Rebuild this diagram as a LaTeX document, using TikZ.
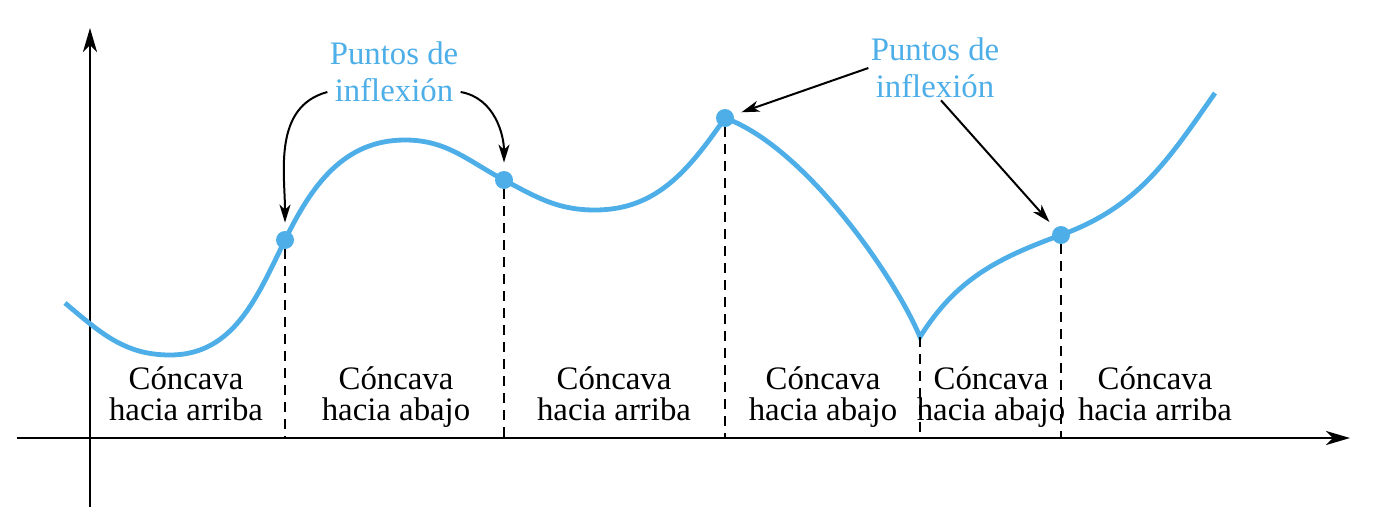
\documentclass[tikz,border=0pt]{standalone}
\usepackage{fontspec}
\setmainfont{Liberation Serif}
\usetikzlibrary{arrows.meta}
\definecolor{curva}{RGB}{77,174,232}
\tikzset{
  eje/.style={line width=1.2pt,-{Stealth[length=12pt,width=7pt,inset=3.5pt]}},
  flecha/.style={line width=1pt,-{Stealth[length=9pt,width=5.5pt,inset=2.5pt]},shorten >=4pt},
  zona/.style={anchor=north,inner sep=0pt,align=center,font=\fontsize{16.4}{15.7}\selectfont},
  rotulo/.style={inner sep=1pt,align=center,text=curva,font=\fontsize{16.4}{18.4}\selectfont},
  punto/.style={circle,fill=curva,inner sep=0pt,minimum size=9pt},
  guia/.style={line width=1.3pt,dash pattern=on 5pt off 3.5pt},
}
\begin{document}
\begin{tikzpicture}[x=0.5pt,y=0.5pt]
        \useasboundingbox (0,0) rectangle (1380,516);
        \coordinate (o) at (90,78);
        \draw[eje] (17,78) -- (1350,78);
        \draw[eje] (90,9) -- (90,488);

        % la curva
        \draw[curva,line width=2.4pt] (65,213) to[out=-40,in=180] (170,161)
            to[out=0,in=244] (285,276) to[out=64,in=180] (405,376)
            to[out=0,in=152] (504,336) to[out=-28,in=180] (595,306)
            to[out=0,in=235] (725,398) .. controls (805,369) and (895,239) .. (920,179)
            to[out=58,in=200] (1061,281) to[out=20,in=235] (1215,423);
        \node[punto] (p1) at (285,276) {};
        \node[punto] (p2) at (504,336) {};
        \node[punto] (p3) at (725,398) {};
        \node[punto] (p4) at (1061,281) {};
        \coordinate (pico) at (920,179);

        \draw[guia] (p1) -- (p1 |- o);
        \draw[guia] (p2) -- (p2 |- o);
        \draw[guia] (p3) -- (p3 |- o);
        \draw[guia] (pico) -- (pico |- o);
        \draw[guia] (p4) -- (p4 |- o);

        \node[zona] (c1) at (186,150) {Cóncava\\hacia arriba};
        \node[zona] (c2) at (396,150) {Cóncava\\hacia abajo};
        \node[zona] (c3) at (614,150) {Cóncava\\hacia arriba};
        \node[zona] (c4) at (823,150) {Cóncava\\hacia abajo};
        \node[zona] (c5) at (991,150) {Cóncava\\hacia abajo};
        \node[zona] (c6) at (1155,150) {Cóncava\\hacia arriba};

        \node[rotulo] (r1) at (394,444) {Puntos de\\inflexión};
        \node[rotulo] (r2) at (935,448) {Puntos de\\inflexión};
        \draw[flecha] ([yshift=-10pt]r1.west) to[out=195,in=90] (p1);
        \draw[flecha] ([yshift=-10pt]r1.east) to[out=-10,in=90] (p2);
        \draw[flecha] (r2.west) -- (p3);
        \draw[flecha] ([xshift=3pt]r2.south) -- (p4);
    \end{tikzpicture}
\end{document}
